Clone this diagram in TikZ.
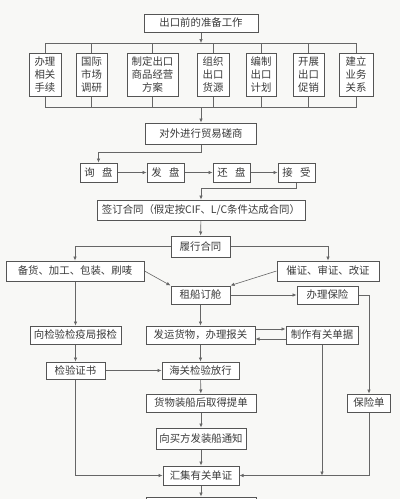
\documentclass[tikz,border=0pt]{standalone}
\usepackage{fontspec}
\newfontfamily\cjk{Noto Sans CJK SC}
\usetikzlibrary{arrows.meta}
\definecolor{bgcol}{HTML}{F8F8F6}
\definecolor{boxcol}{HTML}{555555}
\definecolor{linecol}{HTML}{666666}
\definecolor{txtcol}{HTML}{3A3A3A}
\begin{document}
\begin{tikzpicture}[x=1pt,y=-1pt]
            \tikzstyle{box}=[draw=boxcol,line width=1pt,fill=white,inner sep=0,align=center,text=txtcol,font=\cjk\fontsize{10.4}{13}\selectfont]
            \tikzstyle{tall box}=[box,minimum height=43pt]
            \tikzstyle{link}=[draw=linecol,line width=0.6pt]
            \tikzstyle{arrow}=[link,-{Latex[length=4pt,width=3.5pt]}]

            \fill[bgcol] (0,0) rectangle (400,499);
            \useasboundingbox (0,0) rectangle (400,499);

            \node(prep)[box,minimum width=114pt,minimum height=18pt] at (201,23) {出口前的准备工作};
            \node(b1)[tall box,minimum width=32pt] at (45,74.5) {办理\\相关\\手续};
            \node(b2)[tall box,minimum width=31pt] at (91.5,74.5) {国际\\市场\\调研};
            \node(b3)[tall box,minimum width=51pt] at (152.5,74.5) {制定出口\\商品经营\\方案};
            \node(b4)[tall box,minimum width=32pt] at (213,74.5) {组织\\出口\\货源};
            \node(b5)[tall box,minimum width=30pt] at (261,74.5) {编制\\出口\\计划};
            \node(b6)[tall box,minimum width=31pt] at (308.5,74.5) {开展\\出口\\促销};
            \node(b7)[tall box,minimum width=34pt] at (356,74.5) {建立\\业务\\关系};
            \coordinate(topbar) at (201,43);
            \coordinate(botbar) at (201,107);

            \node(nego)[box,minimum width=111pt,minimum height=21pt] at (201,133.5) {对外进行贸易磋商};
            \node(xun)[box,minimum width=37pt,minimum height=19pt] at (98.5,172.5) {询\hspace{0.7em}盘};
            \node(fa)[box,minimum width=37pt,minimum height=19pt] at (165.5,172.5) {发\hspace{0.7em}盘};
            \node(huan)[box,minimum width=37pt,minimum height=19pt] at (231.5,172.5) {还\hspace{0.7em}盘};
            \node(jie)[box,minimum width=37pt,minimum height=19pt] at (296.5,172.5) {接\hspace{0.7em}受};
            \node(sign)[box,minimum width=208pt,minimum height=20pt] at (201,210) {签订合同（假定按CIF、L/C条件达成合同）};
            \node(lx)[box,minimum width=59pt,minimum height=21pt] at (200.5,246.5) {履行合同};

            \node(bh)[box,minimum width=138pt,minimum height=20pt] at (75,271) {备货、加工、包装、刷唛};
            \node(cz)[box,minimum width=102pt,minimum height=20pt] at (328,271) {催证、审证、改证};
            \node(zc)[box,minimum width=59pt,minimum height=18pt] at (200.5,295) {租船订舱};
            \node(bx)[box,minimum width=61pt,minimum height=18pt] at (327.5,295) {办理保险};
            \node(bj)[box,minimum width=91pt,minimum height=18pt] at (75.5,335) {向检验检疫局报检};
            \node(fy)[box,minimum width=109pt,minimum height=18pt] at (200.5,335) {发运货物，办理报关};
            \node(zz)[box,minimum width=72pt,minimum height=18pt] at (322,335) {制作有关单据};
            \node(jy)[box,minimum width=59pt,minimum height=17pt] at (75.5,370.5) {检验证书};
            \node(hg)[box,minimum width=77pt,minimum height=17pt] at (200.5,370.5) {海关检验放行};
            \node(hw)[box,minimum width=110pt,minimum height=18pt] at (201,403) {货物装船后取得提单};
            \node(bxd)[box,minimum width=43pt,minimum height=18pt] at (369,403) {保险单};
            \node(tz)[box,minimum width=90pt,minimum height=21pt] at (201,438.5) {向买方发装船通知};
            \node(hj)[box,minimum width=76pt,minimum height=19pt] at (201,475.5) {汇集有关单证};
            \node(last)[box,minimum width=110pt,minimum height=20pt] at (201,507) {};

            \draw[arrow] (prep) -- (topbar);
            \draw[link] (b1.north) -- (b1.north |- topbar) -- (b7.north |- topbar) -- (b7.north);
            \draw[link] (b1.south) -- (b1.south |- botbar) -- (b7.south |- botbar) -- (b7.south);
            \foreach \b in {b2,b3,b4,b5,b6}
                \draw[link] (\b.north |- topbar) -- (\b.north) (\b.south) -- (\b.south |- botbar);
            \draw[arrow] (botbar) -- (nego);

            \draw[arrow] (nego.south) -- ++(0,8) -| (xun.north);
            \draw[arrow] (xun) -- (fa);
            \draw[arrow] (fa) -- (huan);
            \draw[arrow] (huan) -- (jie);
            \draw[arrow] (jie.south) -- ++(0,6) -| (sign.north);
            \draw[arrow] (sign) -- (lx);

            \draw[arrow] (lx.west) -| (bh.north);
            \draw[arrow] (lx.east) -| (cz.north);
            \draw[arrow] (bh.east) -- (zc.north west);
            \draw[arrow] (cz.west) -- (zc.north east);
            \draw[arrow] (zc) -- (bx);
            \draw[arrow] (bx.east) -| (bxd.north);
            \draw[arrow] (zc) -- (fy);
            \draw[arrow] (bj.north |- bh.south) -- (bj.north);
            \draw[arrow] ([yshift=6pt]fy.east) -- ([yshift=6pt]zz.west);
            \draw[arrow] ([yshift=-4pt]zz.west) -- ([yshift=-4pt]fy.east);
            \draw[arrow] (bj) -- (jy);
            \draw[arrow] (fy) -- (hg);
            \draw[arrow] (jy) -- (hg);
            \draw[arrow] (hg) -- (hw);
            \draw[arrow] (hw) -- (tz);
            \draw[arrow] (tz) -- (hj);
            \draw[arrow] (hj) -- (last);
            \draw[arrow] (jy.south) |- (hj.west);
            \draw[arrow] (bxd.south) |- (hj.east);
            \draw[arrow] (zz.south) -- (zz.south |- hj.east);
        \end{tikzpicture}
\end{document}
